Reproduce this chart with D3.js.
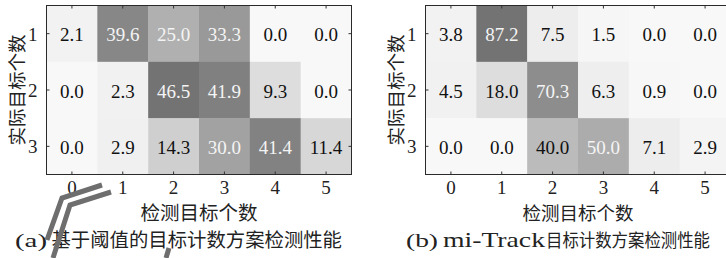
<!DOCTYPE html>
<html>
<head>
<meta charset="utf-8">
<script src="https://cdn.jsdelivr.net/npm/d3@7"></script>
<style>
  body { margin: 0; background: #fff; }
  svg { display: block; }
</style>
</head>
<body>
<div id="chart"></div>
<script>
// detected target counts (columns) and actual target counts (rows)
var x_cats = [0, 1, 2, 3, 4, 5];
var y_cats = [1, 2, 3];
// (a) threshold based counting, percent
var vals_a = [
  [2.1, 39.6, 25.0, 33.3, 0.0, 0.0],
  [0.0, 2.3, 46.5, 41.9, 9.3, 0.0],
  [0.0, 2.9, 14.3, 30.0, 41.4, 11.4]
];
// (b) mi-Track counting, percent
var vals_b = [
  [3.8, 87.2, 7.5, 1.5, 0.0, 0.0],
  [4.5, 18.0, 70.3, 6.3, 0.9, 0.0],
  [0.0, 0.0, 40.0, 50.0, 7.1, 2.9]
];
var x_title = '检测目标个数';
var y_title = '实际目标个数';

var serif = '"Liberation Serif", "DejaVu Serif", serif';
var cjk = '"Noto Sans CJK SC", sans-serif';

var width = 726, height = 258;
var svg = d3.select('#chart').append('svg')
    .attr('width', width)
    .attr('height', height);

function make_panel(vals, left, cap, title_size){
    var top = 5.5, bottom = 174.5, right = left + 305;
    var x = d3.scaleBand().domain(x_cats).range([left, right]);
    var y = d3.scaleBand().domain(y_cats).range([top, bottom]);
    var vmax = d3.max(vals, function(r){ return d3.max(r); });
    var color = d3.scaleLinear().domain([0, vmax]).range(['#f8f8f8', '#737373']);
    var cells = [];
    vals.forEach(function(row, i){
        row.forEach(function(v, j){
            cells.push({r: y_cats[i], c: x_cats[j], v: v});
        });
    });
    var g = svg.append('g');
    g.selectAll('rect.cell')
        .data(cells)
        .enter().append('rect')
        .attr('class', 'cell')
        .attr('x', function(d){ return x(d.c); })
        .attr('y', function(d){ return y(d.r); })
        .attr('width', x.bandwidth() + 0.5)
        .attr('height', y.bandwidth() + 0.5)
        .attr('fill', function(d){ return color(d.v); });
    g.selectAll('text.val')
        .data(cells)
        .enter().append('text')
        .attr('class', 'val')
        .attr('x', function(d){ return x(d.c) + x.bandwidth()/2; })
        .attr('y', function(d){ return y(d.r) + y.bandwidth()/2 + 7.5; })
        .attr('text-anchor', 'middle')
        .style('font-family', serif)
        .style('font-size', '19px')
        .attr('fill', function(d){ return d.v/vmax > 0.5 ? '#f4f4f4' : '#111'; })
        .text(function(d){ return d.v.toFixed(1); });

    // axes, MATLAB style ticks pointing inward on every side
    var tk = 3;
    var bx = g.append('g').attr('transform', 'translate(0,' + bottom + ')')
        .call(d3.axisBottom(x).tickSizeInner(-tk).tickSizeOuter(0).tickPadding(9));
    var tx = g.append('g').attr('transform', 'translate(0,' + top + ')')
        .call(d3.axisTop(x).tickSizeInner(-tk).tickSizeOuter(0).tickFormat(''));
    var ly = g.append('g').attr('transform', 'translate(' + left + ',0)')
        .call(d3.axisLeft(y).tickSizeInner(-tk).tickSizeOuter(0).tickPadding(9));
    var ry = g.append('g').attr('transform', 'translate(' + right + ',0)')
        .call(d3.axisRight(y).tickSizeInner(-tk).tickSizeOuter(0).tickFormat(''));
    [bx, tx, ly, ry].forEach(function(a){
        a.attr('font-family', null).attr('font-size', null);
        a.select('.domain').remove();
        a.selectAll('line').attr('stroke', '#333');
        a.selectAll('text')
            .style('font-family', serif)
            .style('font-size', '19px')
            .attr('fill', '#222');
    });
    bx.selectAll('text').attr('dy', '0.71em').attr('y', 6);
    ly.selectAll('text').attr('dy', '0.36em');
    g.append('rect')
        .attr('x', left).attr('y', top)
        .attr('width', right - left).attr('height', bottom - top)
        .attr('fill', 'none').attr('stroke', '#2a2a2a').attr('stroke-width', 1);

    g.append('text')
        .attr('x', left + 152.5)
        .attr('y', 220)
        .attr('text-anchor', 'middle')
        .style('font-family', cjk)
        .style('font-size', title_size + 'px')
        .attr('fill', '#222')
        .text(x_title);
    g.append('text')
        .attr('transform', 'translate(' + (left - 23) + ',' + ((top + bottom)/2) + ') rotate(-90)')
        .attr('text-anchor', 'middle')
        .style('font-family', cjk)
        .style('font-size', '18.5px')
        .attr('fill', '#222')
        .text(y_title);

    // caption pieces, stretched to the widths in the picture
    cap.forEach(function(p){
        g.append('text')
            .attr('x', p.x0)
            .attr('y', 247)
            .attr('textLength', p.x1 - p.x0)
            .attr('lengthAdjust', 'spacingAndGlyphs')
            .style('font-family', p.font)
            .style('font-size', p.size + 'px')
            .attr('fill', '#222')
            .text(p.t);
    });
}

make_panel(vals_a, 46.5, [
    {t: '(a)', x0: 15, x1: 47, size: 19, font: serif},
    {t: '基于阈值的目标计数方案检测性能', x0: 51.5, x1: 342, size: 19.5, font: cjk}
], 19.5);
make_panel(vals_b, 425.5, [
    {t: '(b)', x0: 406, x1: 438, size: 19, font: serif},
    {t: 'mi-Track', x0: 443, x1: 545, size: 21, font: serif},
    {t: '目标计数方案检测性能', x0: 546, x1: 710, size: 18, font: cjk}
], 18.5);

// grey pen strokes across the lower left corner of the picture
var strokes = [
    [[102, 185], [62, 198], [47, 240]],
    [[111, 192], [70, 205], [53, 258]],
    [[169, 248], [166, 258]]
];
svg.selectAll('path.pen')
    .data(strokes)
    .enter().append('path')
    .attr('class', 'pen')
    .attr('d', d3.line())
    .attr('fill', 'none')
    .attr('stroke', '#6e6e6e')
    .attr('stroke-width', 5);
</script>
</body>
</html>
